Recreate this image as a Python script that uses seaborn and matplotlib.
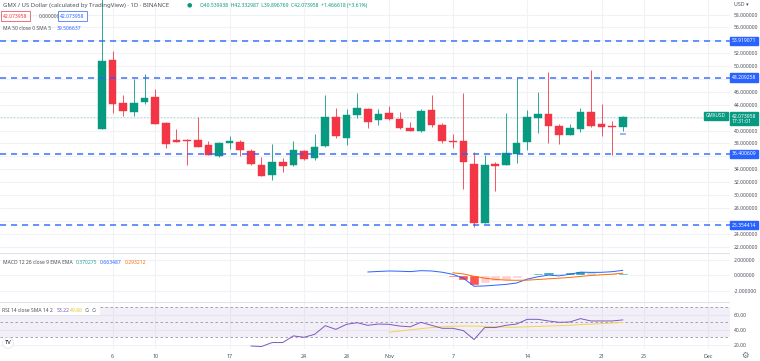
import numpy as np
import pandas as pd
import matplotlib
matplotlib.use("Agg")
import matplotlib.pyplot as plt
import seaborn as sns
from matplotlib.patches import Rectangle

# ---------------- data ----------------
dates = pd.date_range("2022-10-05", "2022-11-23", freq="D")
opens = [40.28, 50.95, 44.23, 42.93, 44.38, 45.22, 41.22, 38.60, 38.60, 38.60,
         37.72, 36.00, 38.09, 38.25, 36.78, 34.70, 33.19, 35.17, 34.60, 36.90,
         35.75, 37.56, 42.09, 38.92, 42.40, 43.40, 41.62, 42.67, 41.73, 40.43,
         39.90, 43.14, 40.90, 38.34, 38.34, 34.85, 25.68, 34.85, 34.70, 36.37,
         38.25, 41.90, 42.62, 40.68, 39.39, 40.17, 42.87, 40.95, 40.70, 40.54]
highs = [60.50, 52.40, 45.53, 47.98, 48.76, 46.42, 41.30, 40.28, 38.65, 42.15,
         38.34, 38.20, 39.23, 38.60, 37.20, 35.90, 37.98, 35.75, 38.34, 37.00,
         39.54, 45.53, 43.56, 43.30, 45.90, 43.56, 43.40, 43.80, 42.93, 41.30,
         43.30, 45.48, 41.22, 39.50, 45.80, 36.62, 36.26, 35.20, 42.67, 48.09,
         43.20, 46.06, 49.12, 41.10, 40.95, 43.56, 49.39, 44.08, 41.47, 42.33]
lows = [40.20, 42.80, 42.25, 42.25, 44.18, 41.00, 37.31, 38.20, 34.70, 37.40,
        36.20, 35.95, 37.15, 36.00, 34.70, 33.00, 32.36, 33.65, 34.50, 35.48,
        35.37, 37.50, 38.87, 37.83, 42.00, 40.43, 40.80, 41.70, 40.17, 39.95,
        39.75, 40.60, 38.09, 37.30, 30.90, 25.06, 25.60, 30.70, 34.60, 34.97,
        37.04, 39.65, 38.09, 37.98, 39.30, 39.75, 40.53, 39.23, 36.26, 39.90]
closes = [50.84, 44.18, 43.03, 44.34, 45.12, 41.06, 37.93, 38.30, 38.35, 37.45,
          36.26, 38.09, 38.45, 37.04, 34.80, 33.03, 35.06, 34.50, 37.04, 35.59,
          37.40, 42.09, 39.12, 42.40, 43.56, 41.30, 42.62, 41.73, 40.33, 40.00,
          42.98, 40.80, 38.34, 38.18, 35.06, 25.68, 34.70, 34.54, 36.53, 38.09,
          42.15, 42.50, 40.68, 39.39, 40.43, 42.87, 40.68, 40.59, 40.50, 42.07]

levels = [53.919071, 48.209258, 36.400609, 25.354414]
level_labels = ["53.919071", "48.209258", "36.400609", "25.354414"]
last_price = 42.073958
ma50_last = 39.506637
ohlc_text = "O40.539938  H42.332987  L39.896769  C42.073958  +1.466618 (+3.61%)"
macd_header = ["0.370275", "0.663487", "0.293212"]

macd_start = "2022-10-30"
macd_vals = [0.45, 0.52, 0.58, 0.55, 0.50, 0.62, 0.58, 0.42, 0.15, -0.35,
             -1.39, -1.35, -1.25, -1.15, -0.97, -0.47, -0.17, 0.05, -0.05, 0.15,
             0.43, 0.40, 0.41, 0.49, 0.663]
signal_start = "2022-11-07"
signal_vals = [0.35, 0.20, -0.10, -0.35, -0.50, -0.60, -0.62, -0.60, -0.52, -0.43,
               -0.35, -0.25, -0.12, 0.00, 0.08, 0.17, 0.293]
hist_vals = [-0.20, -0.55, -1.29, -1.00, -0.75, -0.55, -0.35, 0.13, 0.35, 0.48,
             0.30, 0.40, 0.55, 0.40, 0.33, 0.32, 0.37]

rsi_start = "2022-10-19"
rsi_vals = [18.4, 17.7, 23.0, 23.0, 31.9, 30.0, 34.0, 45.5, 40.6, 47.3, 49.5, 46.0, 47.7,
            47.3, 45.0, 44.0, 50.0, 46.0, 42.0, 42.0, 38.9, 27.0, 43.0, 43.0, 46.0, 47.7,
            54.0, 54.0, 51.8, 50.0, 50.4, 54.9, 51.8, 51.8, 51.8, 53.22]
rsi_ma_start = "2022-11-01"
rsi_ma_vals = [36.7, 38.5, 40.0, 41.5, 43.0, 44.0, 44.8, 45.0, 45.0, 44.5, 44.0, 43.5,
               43.5, 44.0, 44.5, 45.0, 45.5, 46.0, 47.0, 47.5, 48.3, 49.0, 49.86]

tick_dates = ["2022-10-06", "2022-10-10", "2022-10-17", "2022-10-24", "2022-10-28",
              "2022-11-01", "2022-11-07", "2022-11-14", "2022-11-21", "2022-11-25",
              "2022-12-01"]
tick_labels = ["6", "10", "17", "24", "28", "Nov", "7", "14", "21", "25", "Dec"]
price_grid = list(range(22, 60, 2))
price_labels_shown = [58, 56, 52, 50, 46, 44, 40, 38, 34, 32, 30, 28, 24, 22]
macd_ticks = [2, 0, -2]
rsi_ticks = [60, 40, 20]

# ---------------- style ----------------
sns.set_theme(style="white")
plt.rcParams["font.family"] = ["Noto Sans", "DejaVu Sans"]

GREEN = "#089981"
RED = "#f23645"
BLUE = "#2962ff"
ORANGE = "#ff6d00"
PURPLE = "#7e57c2"
YELLOW = "#f5d547"
GRID = "#f0f2f6"
TXT = "#4a4e59"

W, H = 760, 361
fig = plt.figure(figsize=(W / 100, H / 100), dpi=100)


def rect(top, bottom, right=730):
    return [0, (H - bottom) / H, right / W, (bottom - top) / H]


def ftext(x, y, s, **kw):
    kw.setdefault("va", "center")
    kw.setdefault("ha", "left")
    return fig.text(x / W, 1 - y / H, s, **kw)


ax_p = fig.add_axes(rect(0, 253))
ax_m = fig.add_axes(rect(253, 302))
ax_r = fig.add_axes(rect(302, 349))

d0 = dates[0]
idx = np.array([(d - d0).days for d in dates])
tick_x = [(pd.Timestamp(t) - d0).days for t in tick_dates]


def day_index(start, n):
    s = (pd.Timestamp(start) - d0).days
    return np.arange(s, s + n)


xlim = (-9.6, 59.08)
for ax in (ax_p, ax_m, ax_r):
    ax.set_xlim(*xlim)
    for sp in ax.spines.values():
        sp.set_visible(False)
    ax.set_xticks(tick_x)
    ax.tick_params(length=0)
    for xv in tick_x:
        ax.axvline(xv, color=GRID, lw=0.8, zorder=0)
    ax.set_facecolor("white")

# ---------------- price pane ----------------
ax_p.set_ylim(21.02, 60.25)
for pv in price_grid:
    ax_p.axhline(pv, color=GRID, lw=0.8, zorder=0)
ax_p.yaxis.tick_right()
ax_p.set_yticks(price_labels_shown)
ax_p.set_yticklabels([f"{v:.6f}" for v in price_labels_shown])
ax_p.tick_params(axis="y", labelsize=3.6, labelcolor=TXT, pad=2.5)
ax_p.set_xticklabels([])

o = np.array(opens); c = np.array(closes)
hi = np.array(highs); lo = np.array(lows)
cols = np.where(c >= o, GREEN, RED)
ax_p.vlines(idx, lo, hi, colors=cols, lw=0.7, alpha=0.85, zorder=2)
body_h = np.maximum(np.abs(c - o), 0.15)
ax_p.bar(idx, body_h, bottom=np.minimum(o, c), width=0.72, color=cols,
         edgecolor=cols, lw=0.3, zorder=3)

for lv in levels:
    ax_p.axhline(lv, color=BLUE, lw=1.1, ls=(0, (4, 3.2)), zorder=4, alpha=0.9)
ax_p.axhline(last_price, color=GREEN, lw=0.6, ls=(0, (2, 2)), alpha=0.35, zorder=1)
ax_p.scatter([idx[-1]], [ma50_last], marker="_", s=22, color="#8fa8f0", lw=1.2, zorder=5)

# level labels on price scale
for lv, lab in zip(levels, level_labels):
    y = 14.5 + (58 - lv) * 6.45
    ftext(731.5, y, lab, fontsize=3.6, color="white",
          bbox=dict(boxstyle="square,pad=0.35", fc=BLUE, ec=BLUE))
yl = 14.5 + (58 - last_price) * 6.45
ftext(706, yl - 1.5, "GMXUSD", fontsize=3.4, color="white",
      bbox=dict(boxstyle="square,pad=0.35", fc=GREEN, ec=GREEN))
ftext(731.5, yl + 1.5, f"{last_price:.6f}\n17:31:01", fontsize=3.6, color="white",
      linespacing=1.0,
      bbox=dict(boxstyle="square,pad=0.35", fc=GREEN, ec=GREEN))
ftext(734, 4, "USD \u25be", fontsize=3.8, color=TXT)

# header
ftext(3, 5, "GMX / US Dollar (calculated by TradingView) \u00b7 1D \u00b7 BINANCE",
      fontsize=4.3, color=TXT)
ftext(189, 5, "\u25cf", fontsize=4.5, color=GREEN, ha="center")
ftext(200, 5, ohlc_text, fontsize=3.6, color=GREEN)
ftext(3, 16, f"{last_price:.6f}", fontsize=3.6, color=RED,
      bbox=dict(boxstyle="square,pad=0.45", fc="white", ec=RED, lw=0.5))
ftext(39, 16, "0.000000", fontsize=3.6, color=TXT)
ftext(60, 16, f"{last_price:.6f}", fontsize=3.6, color=BLUE,
      bbox=dict(boxstyle="square,pad=0.45", fc="white", ec=BLUE, lw=0.5))
ftext(3, 28, "MA 50 close 0 SMA 5", fontsize=3.6, color=TXT)
ftext(57, 28, f"{ma50_last:.6f}", fontsize=3.6, color=BLUE)

# ---------------- MACD pane ----------------
ax_m.set_ylim(-3.42, 2.9)
for mv in macd_ticks:
    ax_m.axhline(mv, color=GRID, lw=0.8, zorder=0)
ax_m.axhline(2.9, color="#e0e3eb", lw=0.8)
ax_m.yaxis.tick_right()
ax_m.set_yticks(macd_ticks)
ax_m.set_yticklabels([f"{v:.6f}" for v in macd_ticks])
ax_m.tick_params(axis="y", labelsize=3.6, labelcolor=TXT, pad=2.5)
ax_m.set_xticklabels([])

hx = day_index(signal_start, len(hist_vals))
hv = np.array(hist_vals)
hcols = []
for i, v in enumerate(hv):
    prev = hv[i - 1] if i > 0 else 0.0
    if v >= 0:
        hcols.append("#26a69a" if v > prev else "#b2dfdb")
    else:
        hcols.append("#ffcdd2" if v > prev else "#ff5252")
ax_m.bar(hx, hv, width=0.95, color=hcols, zorder=2)

macd_df = pd.DataFrame({"x": day_index(macd_start, len(macd_vals)), "v": macd_vals})
sig_df = pd.DataFrame({"x": hx, "v": signal_vals})
sns.lineplot(data=macd_df, x="x", y="v", ax=ax_m, color=BLUE, lw=0.7, zorder=3)
sns.lineplot(data=sig_df, x="x", y="v", ax=ax_m, color=ORANGE, lw=0.7, zorder=3)
ax_m.set_xlabel(""); ax_m.set_ylabel("")

ftext(3, 262, "MACD 12 26 close 9 EMA EMA", fontsize=3.6, color=TXT)
ftext(76, 262, macd_header[0], fontsize=3.6, color="#26a69a")
ftext(100, 262, macd_header[1], fontsize=3.6, color=BLUE)
ftext(125, 262, macd_header[2], fontsize=3.6, color=ORANGE)

# ---------------- RSI pane ----------------
ax_r.set_ylim(14.4, 77.1)
ax_r.axhline(77.1, color="#e0e3eb", lw=0.8)
for rv in rsi_ticks:
    ax_r.axhline(rv, color=GRID, lw=0.8, zorder=0)
ax_r.axhspan(30, 70, color=PURPLE, alpha=0.09, lw=0, zorder=1)
for rv in (70, 50, 30):
    ax_r.axhline(rv, color="#9598a1", lw=0.6, ls=(0, (3, 3)), zorder=2)
ax_r.yaxis.tick_right()
ax_r.set_yticks(rsi_ticks)
ax_r.set_yticklabels([f"{v:.2f}" for v in rsi_ticks])
ax_r.tick_params(axis="y", labelsize=3.6, labelcolor=TXT, pad=2.5)
ax_r.set_xticklabels(tick_labels)
ax_r.tick_params(axis="x", labelsize=3.8, labelcolor=TXT, pad=3.5)

rsi_df = pd.DataFrame({"x": day_index(rsi_start, len(rsi_vals)), "v": rsi_vals})
rma_df = pd.DataFrame({"x": day_index(rsi_ma_start, len(rsi_ma_vals)), "v": rsi_ma_vals})
sns.lineplot(data=rma_df, x="x", y="v", ax=ax_r, color=YELLOW, lw=0.7, zorder=3)
sns.lineplot(data=rsi_df, x="x", y="v", ax=ax_r, color=PURPLE, lw=0.7, zorder=4)
ax_r.set_xlabel(""); ax_r.set_ylabel("")

# white header backing in RSI pane
fig.patches.append(Rectangle((0, 1 - 315 / H), 100 / W, 10 / H,
                             transform=fig.transFigure, fc="white", ec="none",
                             zorder=5))
ftext(2, 310, "RSI 14 close SMA 14 2", fontsize=3.6, color=TXT, zorder=6)
ftext(57, 310, f"{rsi_vals[-1]:.2f}", fontsize=3.6, color=PURPLE, zorder=6)
ftext(70, 310, f"{rsi_ma_vals[-1]:.2f}", fontsize=3.6, color="#e6c619", zorder=6)
ftext(85, 310, "\u2205  \u2205", fontsize=3.6, color=TXT, zorder=6)

# logo & settings icon
ftext(8, 343, "TV", fontsize=4.2, color="#131722", ha="center", fontweight="bold",
      bbox=dict(boxstyle="circle,pad=0.35", fc="white", ec="#e0e3eb", lw=0.5))
ftext(745, 355, "\u2699", fontsize=6, color="#6a6d78", ha="center")

fig.savefig("out.png", dpi=100)
